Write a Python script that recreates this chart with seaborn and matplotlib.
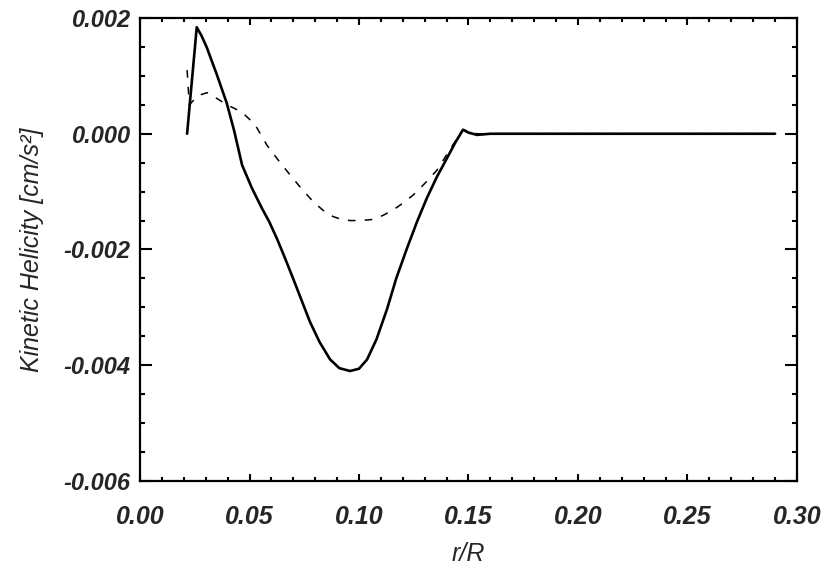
import numpy as np
import pandas as pd
import matplotlib
matplotlib.use('Agg')
import matplotlib.pyplot as plt
import seaborn as sns
from matplotlib.ticker import MultipleLocator

# Curves (r/R, kinetic helicity)
r_solid = [0.0215, 0.0259, 0.0280, 0.0304, 0.0350, 0.0396, 0.0430, 0.0466, 0.0511,
           0.0557, 0.0590, 0.0625, 0.0660, 0.0699, 0.0740, 0.0776, 0.0820, 0.0868,
           0.0910, 0.0959, 0.1000, 0.1037, 0.1080, 0.1128, 0.1170, 0.1219, 0.1265,
           0.1310, 0.1355, 0.1402, 0.1440, 0.1475, 0.1500, 0.1539, 0.1600, 0.2000,
           0.2500, 0.2900]
h_solid = [0.0, 0.00184, 0.00170, 0.00150, 0.00103, 0.00053, 0.00005, -0.00054, -0.00094,
           -0.00129, -0.00152, -0.00181, -0.00213, -0.00250, -0.00290, -0.00325, -0.00360, -0.00390,
           -0.00405, -0.00410, -0.00406, -0.00390, -0.00355, -0.00303, -0.00250, -0.00198, -0.00152,
           -0.00111, -0.00075, -0.00042, -0.00015, 0.00007, 0.00002, -0.00002, 0.0, 0.0,
           0.0, 0.0]

r_dash = [0.0215, 0.0225, 0.0265, 0.0306, 0.0330, 0.0397, 0.0430, 0.0466, 0.0500,
          0.0534, 0.0580, 0.0630, 0.0685, 0.0740, 0.0790, 0.0835, 0.0881, 0.0920,
          0.0959, 0.1010, 0.1064, 0.1110, 0.1155, 0.1200, 0.1247, 0.1300, 0.1356,
          0.1429, 0.1475, 0.1539, 0.1600, 0.2000, 0.2500, 0.2900]
h_dash = [0.0011, 0.00050, 0.00066, 0.00071, 0.00066, 0.00050, 0.00044, 0.00037, 0.00025,
          0.00010, -0.00020, -0.00045, -0.00071, -0.00096, -0.00117, -0.00132, -0.00143, -0.00148,
          -0.00150, -0.00150, -0.00148, -0.00141, -0.00132, -0.00120, -0.00106, -0.00086, -0.00063,
          -0.00019, 0.00007, 0.0, 0.0, 0.0, 0.0, 0.0]

sns.set_style('ticks')
plt.rcParams['font.family'] = ['Liberation Sans', 'DejaVu Sans']

fig = plt.figure(figsize=(8.3, 5.77), dpi=100)
ax = fig.add_axes([0.1687, 0.1664, 0.7915, 0.8024])

df_s = pd.DataFrame({'r': r_solid, 'h': h_solid})
df_d = pd.DataFrame({'r': r_dash, 'h': h_dash})
sns.lineplot(data=df_s, x='r', y='h', ax=ax, color='black', linewidth=1.9, sort=False)
sns.lineplot(data=df_d, x='r', y='h', ax=ax, color='black', linewidth=1.1, sort=False,
             dashes=False, linestyle=(0, (5, 6)))

ax.set_xlim(0, 0.30)
ax.set_ylim(-0.006, 0.002)
ax.xaxis.set_major_locator(MultipleLocator(0.05))
ax.xaxis.set_minor_locator(MultipleLocator(0.01))
ax.yaxis.set_major_locator(MultipleLocator(0.002))
ax.yaxis.set_minor_locator(MultipleLocator(0.0005))
ax.set_xticklabels([f'{v:.2f}' for v in ax.get_xticks()])
ax.set_yticklabels([f'{v:.3f}' for v in ax.get_yticks()])

for s in ax.spines.values():
    s.set_visible(True)
    s.set_linewidth(1.6)
    s.set_color('black')

ax.tick_params(axis='both', which='both', direction='in', top=True, right=True,
               color='black', width=1.5)
ax.tick_params(axis='x', which='major', length=5, pad=17)
ax.tick_params(axis='x', which='minor', length=3)
ax.tick_params(axis='y', which='major', length=8.5, pad=7)
ax.tick_params(axis='y', which='minor', length=3.6)

for lab in ax.get_xticklabels():
    lab.set_fontsize(18)
    lab.set_fontstyle('italic')
    lab.set_fontweight('bold')
for lab in ax.get_yticklabels():
    lab.set_fontsize(17)
    lab.set_fontstyle('italic')
    lab.set_fontweight('bold')

ax.set_xlabel('r/R', fontsize=18, fontstyle='italic', labelpad=10)
ax.set_ylabel('Kinetic Helicity [cm/s²]', fontsize=18, fontstyle='italic', labelpad=14)

fig.savefig('out.png', dpi=100, facecolor='white')
